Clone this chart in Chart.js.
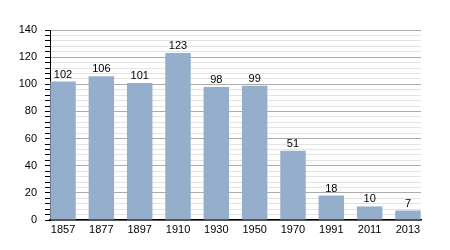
<!DOCTYPE html>
<html>
<head>
<meta charset="utf-8">
<script src="https://cdn.jsdelivr.net/npm/chart.js@4/dist/chart.umd.min.js"></script>
<style>
html,body{margin:0;padding:0;background:#fff;}
#wrap{width:450px;height:250px;position:relative;}
</style>
</head>
<body>
<div id="wrap"><canvas id="c" width="450" height="250"></canvas></div>
<script>
const categories = ["1857","1877","1897","1910","1930","1950","1970","1991","2011","2013"];
const values = [102,106,101,123,98,99,51,18,10,7];
const yTickLabels = [0,20,40,60,80,100,120,140];

const FONT = '"Liberation Sans", Arial, Helvetica, sans-serif';

const valueLabels = {
  id: 'valueLabels',
  afterDatasetsDraw(chart) {
    const ctx = chart.ctx;
    const meta = chart.getDatasetMeta(0);
    ctx.save();
    ctx.font = '11px ' + FONT;
    ctx.fillStyle = '#000';
    ctx.textAlign = 'center';
    ctx.textBaseline = 'alphabetic';
    meta.data.forEach((bar, i) => {
      ctx.fillText(String(values[i]), bar.x, bar.y - 4);
    });
    ctx.restore();
  }
};

new Chart(document.getElementById('c'), {
  type: 'bar',
  data: {
    datasets: [{
      data: values.map((v, i) => ({x: i, y: v})),
      backgroundColor: '#95aecb',
      borderWidth: 0,
      categoryPercentage: 1,
      barPercentage: 0.665
    }]
  },
  options: {
    responsive: false,
    animation: false,
    devicePixelRatio: 1,
    layout: {padding: {top: 30, right: 29, left: 0, bottom: 0}},
    plugins: {legend: {display: false}, tooltip: {enabled: false}},
    scales: {
      x: {
        type: 'linear',
        offset: false,
        min: -0.34,
        max: categories.length - 1 + 0.34,
        afterBuildTicks: (scale) => { scale.ticks = categories.map((_, i) => ({value: i})); },
        afterFit: (scale) => { scale.height = 30; },
        grid: {display: false, drawTicks: false, offset: false},
        border: {display: true, color: '#000', width: 1.5},
        ticks: {
          padding: 3,
          color: '#000',
          font: {size: 11, family: FONT},
          maxRotation: 0,
          autoSkip: false,
          callback: (v) => categories[v]
        }
      },
      y: {
        min: 0,
        max: 140,
        afterFit: (scale) => { scale.width = 50; },
        border: {display: true, color: '#000', width: 1},
        grid: {
          color: (c) => (c.tick && yTickLabels.includes(c.tick.value)) ? '#acacac' : '#e4e4e4',
          tickColor: '#000',
          tickLength: 5,
          lineWidth: 1
        },
        ticks: {
          stepSize: 4,
          padding: 8,
          color: '#000',
          font: {size: 11, family: FONT},
          autoSkip: false,
          callback: (v) => yTickLabels.includes(v) ? String(v) : ''
        }
      }
    }
  },
  plugins: [valueLabels]
});
</script>
</body>
</html>
